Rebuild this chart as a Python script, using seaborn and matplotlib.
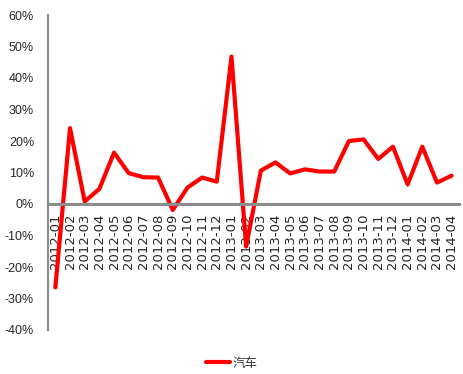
import matplotlib
matplotlib.use("Agg")
import matplotlib.pyplot as plt
import seaborn as sns
import pandas as pd
from matplotlib import font_manager
from matplotlib.ticker import FuncFormatter

months = ["2012-01", "2012-02", "2012-03", "2012-04", "2012-05", "2012-06", "2012-07",
          "2012-08", "2012-09", "2012-10", "2012-11", "2012-12", "2013-01", "2013-02",
          "2013-03", "2013-04", "2013-05", "2013-06", "2013-07", "2013-08", "2013-09",
          "2013-10", "2013-11", "2013-12", "2014-01", "2014-02", "2014-03", "2014-04"]
auto = [-26.5, 24.1, 0.8, 4.8, 16.3, 9.8, 8.5, 8.4, -1.9, 5.2, 8.4, 7.1, 46.8, -13.5,
        10.6, 13.2, 9.7, 11.0, 10.3, 10.3, 20.0, 20.5, 14.3, 18.2, 6.2, 18.2, 6.8, 9.0]
series_name = "汽车"
yticks = [-40, -30, -20, -10, 0, 10, 20, 30, 40, 50, 60]

sns.set_style("white")
plt.rcParams["font.family"] = ["Liberation Sans", "Noto Sans CJK SC", "DejaVu Sans"]

names = {f.name for f in font_manager.fontManager.ttflist}
narrow = "Liberation Sans Narrow" in names
ysize = 11 if narrow else 9
yfam = ["Liberation Sans Narrow"] if narrow else ["Liberation Sans"]

df = pd.DataFrame({"month": months, "value": auto, "series": series_name})

fig = plt.figure(figsize=(4.64, 3.74), dpi=100)
ax = fig.add_axes([48/464, 1-330/374, (459-48)/464, (330-15)/374])

sns.lineplot(data=df, x="month", y="value", hue="series", palette=["#FF0000"],
             linewidth=3, ax=ax, sort=False)

ax.set_xlim(-0.5, len(months) - 0.5)
ax.set_ylim(-40, 60)
ax.set_yticks(yticks)
ax.yaxis.set_major_formatter(FuncFormatter(lambda v, p: f"{int(v)}%"))
ax.set_xlabel("")
ax.set_ylabel("")

for s in ["top", "right"]:
    ax.spines[s].set_visible(False)
ax.spines["left"].set_color("#8C8C8C")
ax.spines["left"].set_linewidth(1.6)
ax.spines["bottom"].set_color("#8C8C8C")
ax.spines["bottom"].set_linewidth(2.2)
ax.spines["bottom"].set_position(("data", 0))

ax.tick_params(axis="x", length=0, pad=7, labelsize=9.5, labelrotation=90)
ax.tick_params(axis="y", length=0, pad=10, labelsize=ysize)
for lbl in ax.get_xticklabels():
    lbl.set_family(["DejaVu Sans"])
    lbl.set_verticalalignment("top")
for lbl in ax.get_yticklabels():
    lbl.set_family(yfam)

leg = ax.legend(loc="center", bbox_to_anchor=(0.5, 1-363/374), bbox_transform=fig.transFigure,
                frameon=False, handlelength=1.9, handletextpad=0.2,
                prop={"family": ["Noto Sans CJK SC"], "size": 9})
for t in leg.get_texts():
    t.set_color("#303030")

fig.savefig("out.png", dpi=100)
